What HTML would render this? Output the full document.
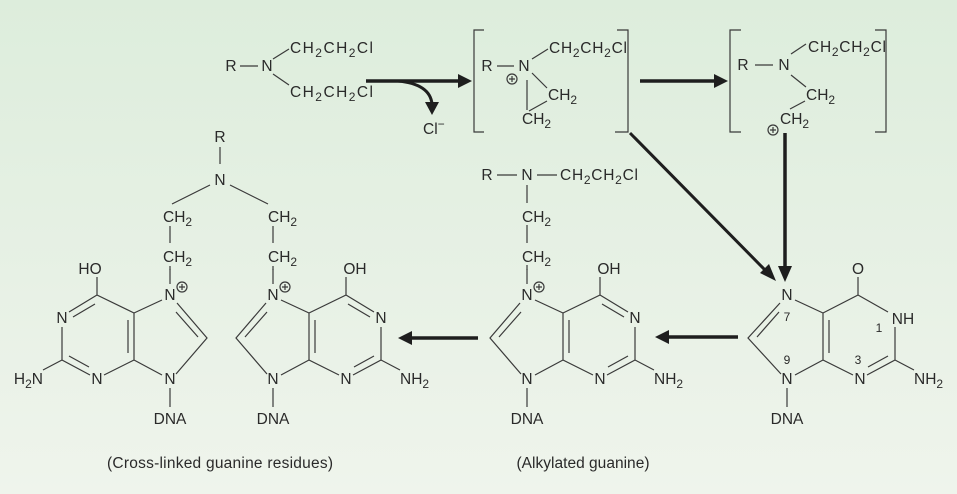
<!DOCTYPE html>
<html><head><meta charset="utf-8"><style>
html,body{margin:0;padding:0;width:957px;height:494px;overflow:hidden}
svg{display:block}
text{font-family:"Liberation Sans",sans-serif;font-size:15.5px;fill:#2a2a2a}
.b{stroke:#3a3a3a;stroke-width:1.2;fill:none}
.a{stroke:#1e1e1e;stroke-width:3.5;fill:none}
.s{font-size:12px}
</style></head><body>
<svg width="957" height="494" viewBox="0 0 957 494" xmlns="http://www.w3.org/2000/svg">
<defs>
<linearGradient id="bg" x1="0" y1="0" x2="0" y2="1">
<stop offset="0" stop-color="#ddeddc"/><stop offset="1" stop-color="#eff4ec"/>
</linearGradient>
<g id="ring">
<path class="b" d="M8,5 L36,18 L73,0 L73,-18 M73,0 L101,17 M108,32 L108,65 L80,80 M108,65 L127,75 M66,80 L36,65 L36,18 M36,65 L8,80 M-6,79 L-37,43 L-7,8 M-28,42 L-6,17 M0,93 L0,112 M0,-11 L0,-26"/>
<path class="b" d="M42,58 L42,25 M101,61 L81,72 M75,9 L97,22"/>
</g>
</defs>
<rect width="957" height="494" fill="url(#bg)"/>

<!-- top structure 1 -->
<text x="231" y="71" text-anchor="middle">R</text>
<path class="b" d="M240,66 L258,66"/>
<text x="267" y="71" text-anchor="middle">N</text>
<path class="b" d="M273,59 L289,49 M273,74 L289,85"/>
<text x="290" y="53" textLength="83">CH<tspan class="s" dy="4">2</tspan><tspan dy="-4">CH</tspan><tspan class="s" dy="4">2</tspan><tspan dy="-4">Cl</tspan></text>
<text x="290" y="97" textLength="83">CH<tspan class="s" dy="4">2</tspan><tspan dy="-4">CH</tspan><tspan class="s" dy="4">2</tspan><tspan dy="-4">Cl</tspan></text>
<path class="a" d="M366,81 L460,81"/><polygon points="472,81 458,74 458,88" fill="#1e1e1e"/>
<path class="b" style="stroke:#1e1e1e;stroke-width:3" d="M398,81 Q430,84 432,104"/><polygon points="432,115 425,102 439,102" fill="#1e1e1e"/>
<text x="423" y="134">Cl<tspan class="s" dy="-6">−</tspan></text>

<!-- bracket 1 -->
<path class="b" d="M484,30 H474 V132 H484 M617,30 H628 V132 H615"/>
<text x="487" y="71" text-anchor="middle">R</text>
<path class="b" d="M497,66 L514,66"/>
<text x="524" y="71" text-anchor="middle">N</text>
<circle cx="512" cy="79" r="5" class="b"/><path class="b" d="M509,79 H515 M512,76 V82"/>
<path class="b" d="M532,59 L548,49 M532,73 L547,88 M527,80 L527,110 M529,111 L547,101"/>
<text x="549" y="53" textLength="78">CH<tspan class="s" dy="4">2</tspan><tspan dy="-4">CH</tspan><tspan class="s" dy="4">2</tspan><tspan dy="-4">Cl</tspan></text>
<text x="548" y="100">CH<tspan class="s" dy="4">2</tspan></text>
<text x="522" y="124">CH<tspan class="s" dy="4">2</tspan></text>

<path class="a" d="M640,81 L716,81"/><polygon points="728,81 714,74 714,88" fill="#1e1e1e"/>

<!-- bracket 2 -->
<path class="b" d="M741,30 H730 V132 H741 M875,30 H886 V132 H875"/>
<text x="743" y="70" text-anchor="middle">R</text>
<path class="b" d="M755,65 L773,65"/>
<text x="784" y="70" text-anchor="middle">N</text>
<path class="b" d="M791,54 L806,44 M791,75 L806,87 M805,101 L790,109"/>
<text x="808" y="52" textLength="78">CH<tspan class="s" dy="4">2</tspan><tspan dy="-4">CH</tspan><tspan class="s" dy="4">2</tspan><tspan dy="-4">Cl</tspan></text>
<text x="806" y="100">CH<tspan class="s" dy="4">2</tspan></text>
<text x="780" y="124">CH<tspan class="s" dy="4">2</tspan></text>
<circle cx="773" cy="130" r="5" class="b"/><path class="b" d="M770,130 H776 M773,127 V133"/>

<!-- arrows into guanine -->
<path class="a" d="M785,133 L785,268"/><polygon points="785,282 778,266 792,266" fill="#1e1e1e"/>
<path class="b" style="stroke:#1e1e1e;stroke-width:3" d="M630,133 L766,271"/><polygon points="776,281 760,273 769,264" fill="#1e1e1e"/>

<!-- right guanine -->
<g transform="translate(787,295)">
<path class="b" d="M8,5 L36,18 L71,0 L71,-18 M71,0 L101,17 M108,32 L108,65 L80,80 M108,65 L127,75 M66,80 L36,65 L36,18 M36,65 L8,80 M-6,79 L-39,43 L-7,8 M-30,42 L-8,17 M0,93 L0,112 M42,58 L42,25 M101,61 L81,72"/>
<text x="0" y="5" text-anchor="middle">N</text>
<text x="71" y="-21" text-anchor="middle">O</text>
<text x="116" y="29" text-anchor="middle">NH</text>
<text x="92" y="37" text-anchor="middle" style="font-size:12px">1</text>
<text x="0" y="26" text-anchor="middle" style="font-size:12px">7</text>
<text x="0" y="69" text-anchor="middle" style="font-size:12px">9</text>
<text x="71" y="69" text-anchor="middle" style="font-size:12px">3</text>
<text x="73" y="89" text-anchor="middle">N</text>
<text x="0" y="89" text-anchor="middle">N</text>
<text x="127" y="89">NH<tspan class="s" dy="4">2</tspan></text>
<text x="0" y="129" text-anchor="middle">DNA</text>
</g>

<path class="a" d="M738,337 L668,337"/><polygon points="655,337 669,330 669,344" fill="#1e1e1e"/>
<path class="a" d="M478,338 L411,338"/><polygon points="398,338 412,331 412,345" fill="#1e1e1e"/>

<!-- middle alkylated guanine -->
<text x="487" y="180" text-anchor="middle">R</text>
<path class="b" d="M497,175 L517,175 M537,175 L557,175 M527,185 L527,203 M527,225 L527,243 M527,265 L527,270"/>
<text x="527" y="180" text-anchor="middle">N</text>
<text x="560" y="180" textLength="78">CH<tspan class="s" dy="4">2</tspan><tspan dy="-4">CH</tspan><tspan class="s" dy="4">2</tspan><tspan dy="-4">Cl</tspan></text>
<text x="522" y="222">CH<tspan class="s" dy="4">2</tspan></text>
<text x="522" y="262">CH<tspan class="s" dy="4">2</tspan></text>
<g transform="translate(527,295)">
<use href="#ring"/>
<text x="0" y="5" text-anchor="middle">N</text>
<circle cx="12" cy="-8" r="5" class="b"/><path class="b" d="M9,-8 H15 M12,-11 V-5"/>
<text x="82" y="-21" text-anchor="middle">OH</text>
<text x="108" y="28" text-anchor="middle">N</text>
<text x="73" y="89" text-anchor="middle">N</text>
<text x="0" y="89" text-anchor="middle">N</text>
<text x="127" y="89">NH<tspan class="s" dy="4">2</tspan></text>
<text x="0" y="129" text-anchor="middle">DNA</text>
</g>

<!-- cross-linked pair -->
<text x="220" y="142" text-anchor="middle">R</text>
<path class="b" d="M220,147 L220,164 M210,185 L172,204 M230,185 L268,204 M170,226 L170,243 M273,226 L273,243 M170,266 L170,270 M273,266 L273,270"/>
<text x="220" y="185" text-anchor="middle">N</text>
<text x="163" y="222">CH<tspan class="s" dy="4">2</tspan></text>
<text x="163" y="262">CH<tspan class="s" dy="4">2</tspan></text>
<text x="268" y="222">CH<tspan class="s" dy="4">2</tspan></text>
<text x="268" y="262">CH<tspan class="s" dy="4">2</tspan></text>

<g transform="translate(273,295)">
<use href="#ring"/>
<text x="0" y="5" text-anchor="middle">N</text>
<circle cx="12" cy="-8" r="5" class="b"/><path class="b" d="M9,-8 H15 M12,-11 V-5"/>
<text x="82" y="-21" text-anchor="middle">OH</text>
<text x="108" y="28" text-anchor="middle">N</text>
<text x="73" y="89" text-anchor="middle">N</text>
<text x="0" y="89" text-anchor="middle">N</text>
<text x="127" y="89">NH<tspan class="s" dy="4">2</tspan></text>
<text x="0" y="129" text-anchor="middle">DNA</text>
</g>

<g transform="translate(170,295)">
<g transform="scale(-1,1)"><use href="#ring"/></g>
<text x="0" y="5" text-anchor="middle">N</text>
<circle cx="12" cy="-8" r="5" class="b"/><path class="b" d="M9,-8 H15 M12,-11 V-5"/>
<text x="-80" y="-21" text-anchor="middle">HO</text>
<text x="-108" y="28" text-anchor="middle">N</text>
<text x="-73" y="89" text-anchor="middle">N</text>
<text x="0" y="89" text-anchor="middle">N</text>
<text x="-127" y="89" text-anchor="end">H<tspan class="s" dy="4">2</tspan><tspan dy="-4">N</tspan></text>
<text x="0" y="129" text-anchor="middle">DNA</text>
</g>

<text x="220" y="468" text-anchor="middle" textLength="226">(Cross-linked guanine residues)</text>
<text x="583" y="468" text-anchor="middle" textLength="133">(Alkylated guanine)</text>
</svg>
</body></html>
